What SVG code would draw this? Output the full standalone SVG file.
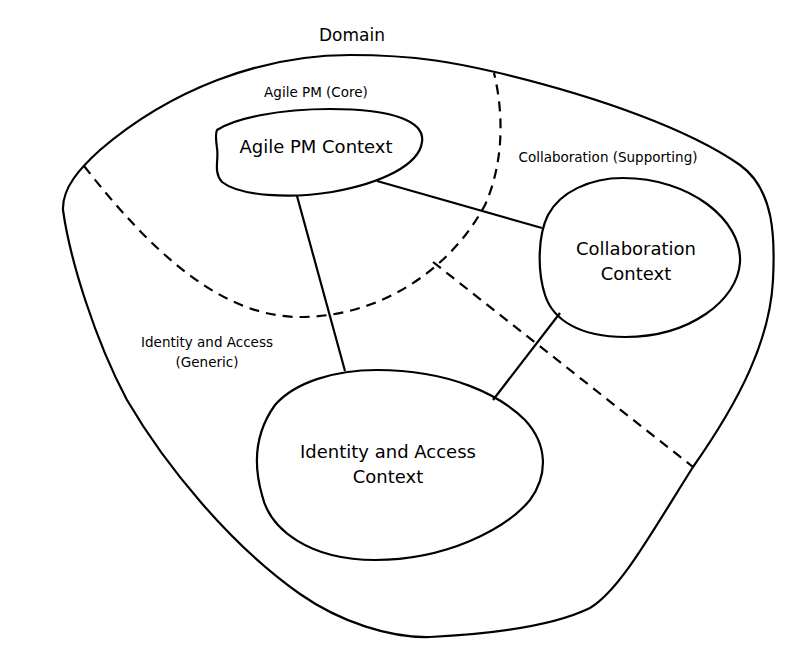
<svg xmlns="http://www.w3.org/2000/svg" width="805" height="647" viewBox="0 0 805 647">
<style>
.shape{fill:none;stroke:#000;stroke-width:2.2;stroke-linejoin:round;stroke-linecap:round}
.dash{fill:none;stroke:#000;stroke-width:2.2;stroke-dasharray:10 7}
.conn{fill:none;stroke:#000;stroke-width:2.2}
text{font-family:"DejaVu Sans","Liberation Sans",sans-serif;fill:#000;text-anchor:middle}
.big{font-size:18px}
.small{font-size:13.5px}
</style>
<rect width="805" height="647" fill="#fff"/>
<g id="domain">
<path class="shape" d="M 63,210 C 62,188 80,168 100,150 C 170,90 260,55 350,55 C 420,55 460,64 495,72 C 600,97 690,130 740,165 C 775,190 775,240 773,280 C 770,340 740,400 693,467 C 650,535 620,590 590,608 C 545,630 470,635 430,637 C 390,638 340,622 300,594 C 230,545 165,465 127,400 C 95,340 70,260 63,210 Z"/>
<text x="352" y="41" style="font-size:17px">Domain</text>
</g>
<g id="subdomains">
<path class="dash" d="M 84,166 C 150,250 220,317 300,317 C 380,317 450,270 485,205 C 505,160 503,110 494,73"/>
<path class="dash" d="M 433,262 L 693,467"/>
<text class="small" x="316" y="97">Agile PM (Core)</text>
<text class="small" x="608" y="162">Collaboration (Supporting)</text>
<text class="small" x="207" y="347">Identity and Access</text>
<text class="small" x="207" y="367">(Generic)</text>
</g>
<g id="connectors">
<path class="conn" d="M 377,181 L 542,228"/>
<path class="conn" d="M 297,196 L 345,371"/>
<path class="conn" d="M 560,313 L 493,400"/>
</g>
<g id="agile-pm-context">
<path class="shape" fill="#fff" d="M 217,130 C 235,118 280,109 330,109 C 395,109 425,122 422,142 C 419,165 382,183 332,192 C 290,199 240,196 222,182 C 213,172 219,160 217,148 C 216,140 215,134 217,130 Z"/>
<text class="big" x="316" y="153">Agile PM Context</text>
</g>
<g id="collaboration-context">
<path class="shape" d="M 623,178 C 690,178 742,220 740,262 C 738,300 690,337 625,337 C 580,337 553,320 545,295 C 537,270 538,235 548,215 C 560,192 590,178 623,178 Z"/>
<text class="big" x="636" y="255">Collaboration</text>
<text class="big" x="636" y="280">Context</text>
</g>
<g id="identity-access-context">
<path class="shape" d="M 377,370 C 450,370 500,395 525,420 C 548,445 548,475 530,500 C 505,530 445,560 375,560 C 310,560 270,530 262,495 C 252,460 257,430 275,405 C 295,382 335,370 377,370 Z"/>
<text class="big" x="388" y="458">Identity and Access</text>
<text class="big" x="388" y="483">Context</text>
</g>
</svg>
